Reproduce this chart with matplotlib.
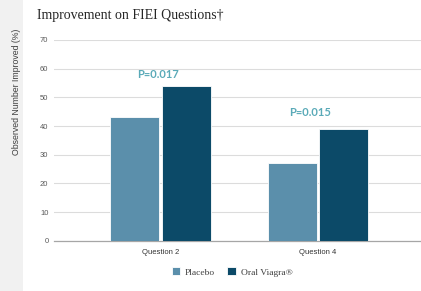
import numpy as np
import matplotlib
matplotlib.use("Agg")
import matplotlib.pyplot as plt
from matplotlib.patches import Rectangle

categories = ["Question 2", "Question 4"]
placebo = [43, 27]
viagra = [54, 39]
p_values = ["P=0.017", "P=0.015"]
yticks = [0, 10, 20, 30, 40, 50, 60, 70]

c_placebo = "#5b8fab"
c_viagra = "#0c4a68"
c_p = "#5aaab8"

fig = plt.figure(figsize=(4.21, 2.91), dpi=100)
fig.patch.set_facecolor("white")
# light gray strip on the left
fig.patches.append(Rectangle((0, 0), 23 / 421, 1, transform=fig.transFigure,
                             facecolor="#f1f1f1", edgecolor="none", zorder=0))

ax = fig.add_axes([54 / 421, 1 - 240.7 / 291, 1 - 54 / 421, (240.7 - 40) / 291])
ax.set_facecolor("none")

x = np.arange(len(categories))
w = 0.31
ax.bar(x - 0.163, placebo, w, color=c_placebo, edgecolor="white", linewidth=0.6, zorder=3, label="Placebo")
ax.bar(x + 0.163, viagra, w, color=c_viagra, edgecolor="white", linewidth=0.6, zorder=3, label="Oral Viagra®")

# p-value labels, placed a bit left of the category centre, above the tall bar
p_dx = [-0.015, -0.05]
p_dy = [3.8, 5.8]
for i, p in enumerate(p_values):
    ax.text(x[i] + p_dx[i], viagra[i] + p_dy[i], p, ha="center", va="center", color=c_p,
            fontsize=8, fontweight="bold", family="Lato")

ax.set_xlim(-0.676, 1.654)
ax.set_ylim(0, 70)
ax.set_yticks(yticks)
ax.set_xticks(x)
ax.set_xticklabels(categories, fontsize=5.5, color="#333333", family="Liberation Sans")
ax.tick_params(axis="y", labelsize=5.5, labelcolor="#595959", length=0, pad=4)
ax.tick_params(axis="x", length=0, pad=6)
for t in ax.get_yticklabels():
    t.set_family("Liberation Sans")
ax.grid(axis="y", color="#dcdcdc", linewidth=0.8, zorder=0)
for s in ["top", "right", "left"]:
    ax.spines[s].set_visible(False)
ax.spines["bottom"].set_color("#a6a6a6")
ax.spines["bottom"].set_linewidth(0.9)

fig.text(16.5 / 421, 1 - 92 / 291, "Observed Number Improved (%)", rotation=90,
         ha="center", va="center", fontsize=6.3, color="#404040", family="Liberation Sans")
fig.text(37 / 421, 1 - 15 / 291, "Improvement on FIEI Questions†", ha="left", va="center",
         fontsize=10, color="#262626", family="Liberation Serif")

fig.legend(loc="center", bbox_to_anchor=(232 / 421, 1 - 272 / 291), ncol=2, frameon=False,
           prop={"family": "Liberation Serif", "size": 6.8}, handlelength=0.9, handleheight=0.9,
           handletextpad=0.5, columnspacing=1.3, labelcolor="#404040")

fig.savefig("out.png", dpi=100)
